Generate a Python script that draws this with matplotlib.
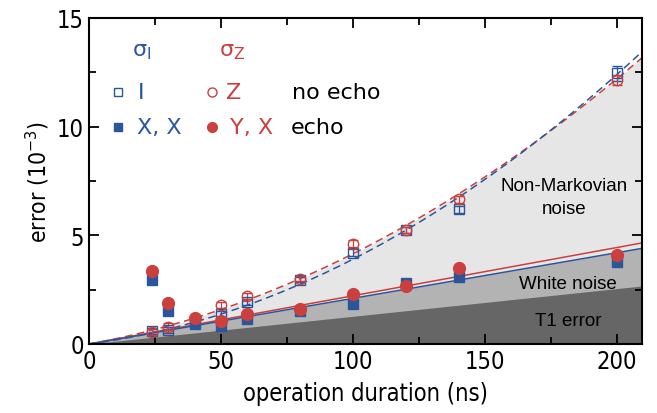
import numpy as np
import matplotlib
matplotlib.use("Agg")
import matplotlib.pyplot as plt
from matplotlib.ticker import MultipleLocator

# ---- data ----
t_open = [24, 30, 50, 60, 80, 100, 120, 140, 200]
err_I = [0.60, 0.65, 1.38, 1.93, 2.95, 4.20, 5.25, 6.20, 12.45]
err_I_sd = [0.15, 0.15, 0.15, 0.15, 0.12, 0.15, 0.15, 0.15, 0.35]
err_Z = [0.55, 0.80, 1.80, 2.20, 3.00, 4.62, 5.25, 6.65, 12.15]
err_Z_sd = [0.15, 0.15, 0.15, 0.15, 0.12, 0.15, 0.15, 0.15, 0.25]

t_echo = [24, 30, 40, 50, 60, 80, 100, 120, 140, 200]
err_XX = [2.95, 1.52, 0.92, 0.83, 1.15, 1.52, 1.85, 2.80, 3.08, 3.78]
err_YX = [3.38, 1.88, 1.18, 1.08, 1.36, 1.62, 2.30, 2.65, 3.48, 4.10]

# model coefficients (error = lin * t + quad * t^2, in 1e-3)
dash_lin_blue, dash_quad_blue = 0.0160, 2.30e-4
dash_lin_red, dash_quad_red = 0.0220, 1.95e-4
lin_blue = 0.0210
lin_red = 0.0222
lin_T1 = 0.01275

xlim = (0, 209.5)
ylim = (0, 15)

blue = "#2a579c"
red = "#cc3f3f"

cond = dict(family="DejaVu Sans", stretch="condensed")

fig = plt.figure(figsize=(6.57, 4.14), dpi=100)
ax = fig.add_axes([89/657, 69/414, (642-89)/657, (345-19)/414])

t = np.linspace(0, xlim[1], 200)
dash_b = dash_lin_blue * t + dash_quad_blue * t**2
dash_r = dash_lin_red * t + dash_quad_red * t**2
sol_b = lin_blue * t
sol_r = lin_red * t
t1 = lin_T1 * t

ax.fill_between(t, 0, dash_r, color="#e6e6e6", lw=0, zorder=0)
ax.fill_between(t, 0, sol_b, color="#b3b3b3", lw=0, zorder=0.5)
ax.fill_between(t, 0, t1, color="#666666", lw=0, zorder=0.6)

ax.plot(t, dash_r, color=red, ls=(0, (5, 3)), lw=1.1, zorder=2)
ax.plot(t, dash_b, color=blue, ls=(0, (5, 3)), lw=1.1, zorder=2)
ax.plot(t, sol_r, color=red, lw=1.1, zorder=2)
ax.plot(t, sol_b, color=blue, lw=1.1, zorder=2)

ax.errorbar(t_open, err_I, yerr=err_I_sd, fmt="s", ms=7, mfc="none", mec=blue,
            mew=1.0, ecolor=blue, elinewidth=0.9, capsize=3.5, capthick=0.9, zorder=3)
ax.errorbar(t_open, err_Z, yerr=err_Z_sd, fmt="o", ms=7.5, mfc="none", mec=red,
            mew=1.0, ecolor=red, elinewidth=0.9, capsize=3.5, capthick=0.9, zorder=3)
ax.plot(t_echo, err_XX, "s", ms=7.5, color=blue, zorder=4)
ax.plot(t_echo, err_YX, "o", ms=8.5, color=red, zorder=4)

ax.set_xlim(*xlim)
ax.set_ylim(*ylim)
ax.xaxis.set_major_locator(MultipleLocator(50))
ax.xaxis.set_minor_locator(MultipleLocator(25))
ax.yaxis.set_major_locator(MultipleLocator(5))
ax.yaxis.set_minor_locator(MultipleLocator(2.5))
ax.tick_params(which="both", direction="in", top=True, right=True, width=1.3)
ax.tick_params(which="major", length=7)
ax.tick_params(which="minor", length=5)
for lab in ax.get_xticklabels() + ax.get_yticklabels():
    lab.set_fontsize(17)
    lab.set_fontstretch("condensed")
for s in ax.spines.values():
    s.set_linewidth(1.5)
ax.set_xlabel("operation duration (ns)", fontsize=17, labelpad=6, **cond)
ax.set_ylabel(r"error (10$^{\mathregular{-3}}$)", fontsize=16.5, labelpad=4, **cond)

# annotations
afont = dict(family="Liberation Sans", fontsize=13.5, ha="center", va="center")
ax.text(180, 6.75, "Non-Markovian\nnoise", linespacing=1.45, **afont)
ax.text(181.5, 2.8, "White noise", **afont)
ax.text(181.5, 1.1, "T1 error", **afont)

# legend built as text
lf = 16
ax.text(20.1, 13.5, r"$\mathregular{σ_I}$", color=blue, fontsize=lf, ha="center", va="center")
ax.text(54.3, 13.5, r"$\mathregular{σ_Z}$", color=red, fontsize=lf, ha="center", va="center")
ax.plot([11], [11.6], "s", ms=6, mfc="none", mec=blue, mew=1.0)
ax.plot([46.7], [11.6], "o", ms=6.5, mfc="none", mec=red, mew=1.0)
ax.plot([11], [10.0], "s", ms=6, color=blue)
ax.plot([46.7], [10.0], "o", ms=7, color=red)
ax.text(18.5, 11.6, "I", color=blue, fontsize=lf, ha="left", va="center")
ax.text(52.0, 11.6, "Z", color=red, fontsize=lf, ha="left", va="center")
ax.text(77.0, 11.6, "no echo", color="black", fontsize=lf, ha="left", va="center")
ax.text(18.0, 10.0, "X, X", color=blue, fontsize=lf, ha="left", va="center")
ax.text(53.5, 10.0, "Y, X", color=red, fontsize=lf, ha="left", va="center")
ax.text(76.5, 10.0, "echo", color="black", fontsize=lf, ha="left", va="center")

fig.savefig("out.png", dpi=100)
